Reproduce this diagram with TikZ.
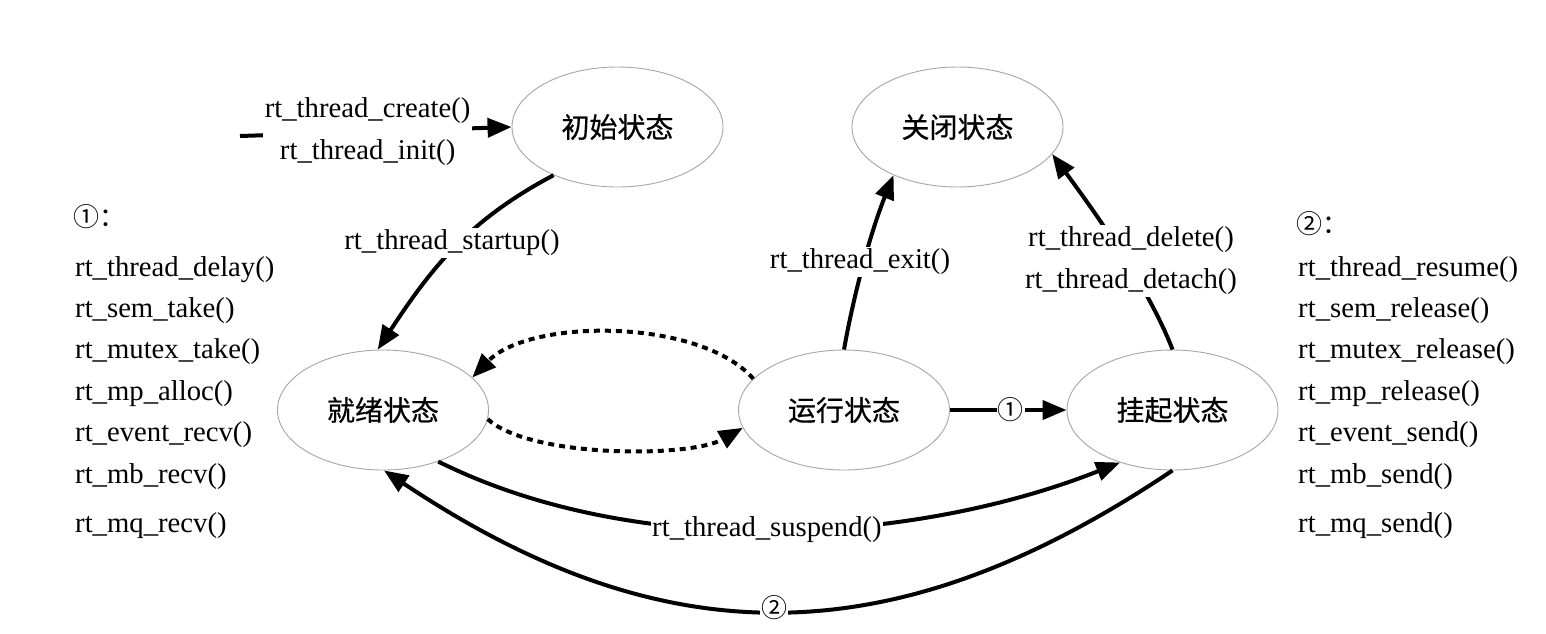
\documentclass[tikz,border=0pt]{standalone}
\usepackage{fontspec}
\setmainfont{Liberation Serif}
\newfontfamily\cjk{Noto Sans CJK SC}
\newfontfamily\cjkb{Noto Sans CJK SC}[FakeBold=0.6]
\usetikzlibrary{arrows.meta,shapes.geometric}
\tikzset{
  state/.style={ellipse, draw=gray!70, line width=0.9pt, minimum width=211pt, minimum height=120pt, inner sep=0pt, font=\cjkb\fontsize{28}{30}\selectfont},
  conn/.style={line width=4pt, -{Triangle[length=24pt,width=19pt]}},
  dotconn/.style={conn, dash pattern=on 6pt off 5pt},
  lbl/.style={fill=white, inner sep=1.5pt, font=\fontsize{28.7}{42}\selectfont, align=center},
  circ/.style={fill=white, inner sep=1pt, font=\cjk\fontsize{26}{28}\selectfont},
  listtxt/.style={anchor=base west, inner sep=0pt, font=\fontsize{28.7}{34}\selectfont}
}
\begin{document}
\begin{tikzpicture}[x=1pt,y=-1pt]
\useasboundingbox (0,0) rectangle (1546,633);
\fill[white] (0,0) rectangle (1546,633);

\node[state] (init) at (617.5,127) {初始状态};
\node[state] (close) at (957.5,127) {关闭状态};
\node[state] (ready) at (383,410) {就绪状态};
\node[state] (run) at (844,410) {运行状态};
\node[state] (susp) at (1172.5,410) {挂起状态};

% create / init
\coordinate (src) at (240,136);
\draw[conn] (src) -- (init.west) node[lbl, pos=0.47] {rt\_thread\_create()\\rt\_thread\_init()};

% startup
\draw[conn] (init.217) .. controls (469,220) and (432,267) .. (ready.95);
\node[lbl] (lstart) at (452,243) {rt\_thread\_startup()};

% exit
\draw[conn] (run.north) .. controls (854,293) and (871,231) .. (close.217);
\node[lbl] (lexit) at (860,262) {rt\_thread\_exit()};

% delete / detach
\draw[conn] (susp.north) .. controls (1148,286) and (1094,211) .. (close.-16);
\node[lbl] (ldel) at (1131,261) {rt\_thread\_delete()\\rt\_thread\_detach()};

% dotted
\draw[dotconn] (run.161) .. controls (700,318) and (530,318) .. (ready.20);
\draw[dotconn] (ready.-5) .. controls (530,458) and (690,458) .. (run.190);

% run -> suspend
\draw[conn] (run.east) -- (susp.west) node[circ, pos=0.52] {①};

% suspend
\draw[conn] (ready.-43) .. controls (640,562) and (917,543) .. (susp.-135);
\node[lbl] (lsusp) at (767,530) {rt\_thread\_suspend()};

% resume (2)
\draw[conn] (susp.south) .. controls (893,658) and (665,658) .. (ready.-89);
\node[circ] (c2) at (774,608) {②};

% left list
\node[listtxt, font=\cjk\fontsize{26}{30}\selectfont] (L0) at (73,226) {①：};
\foreach \t/\y [count=\i] in {rt\_thread\_delay()/276, rt\_sem\_take()/317, rt\_mutex\_take()/358, rt\_mp\_alloc()/400, rt\_event\_recv()/441, rt\_mb\_recv()/483, rt\_mq\_recv()/532}
  \node[listtxt] (L\i) at (75,\y) {\t};

% right list
\node[listtxt, font=\cjk\fontsize{26}{30}\selectfont] (R0) at (1296,233) {②：};
\foreach \t/\y [count=\i] in {rt\_thread\_resume()/276, rt\_sem\_release()/317, rt\_mutex\_release()/358, rt\_mp\_release()/400, rt\_event\_send()/441, rt\_mb\_send()/483, rt\_mq\_send()/532}
  \node[listtxt] (R\i) at (1298,\y) {\t};
\end{tikzpicture}
\end{document}
